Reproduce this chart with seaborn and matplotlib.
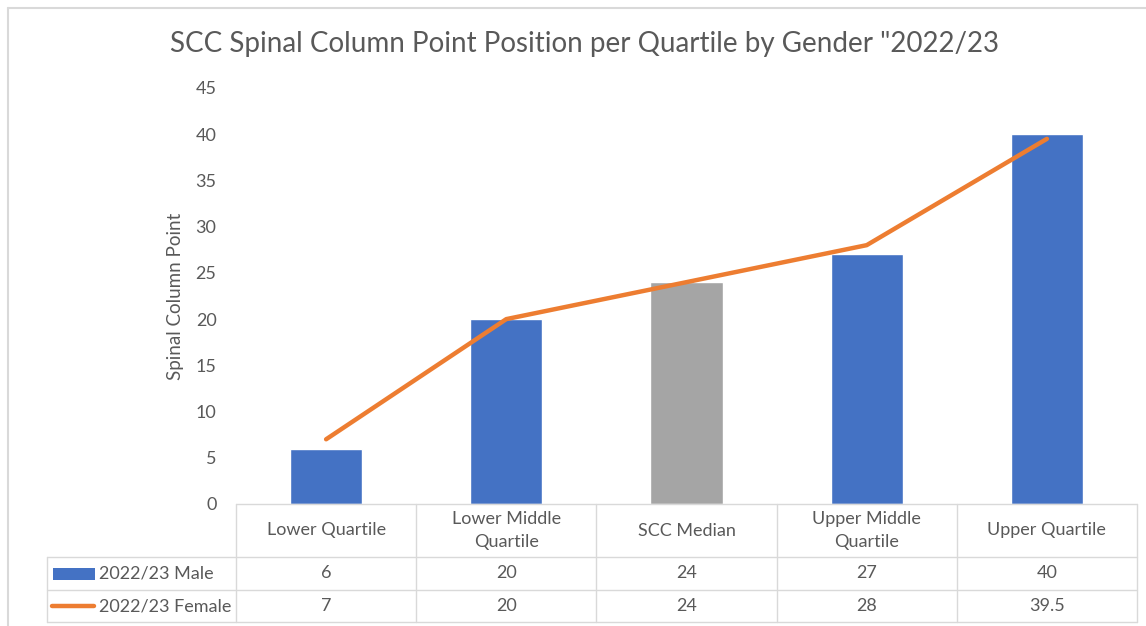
import textwrap
import matplotlib
matplotlib.use("Agg")
import matplotlib.pyplot as plt
import matplotlib.transforms as mtransforms
from matplotlib.lines import Line2D
from matplotlib.patches import Rectangle
import seaborn as sns

# ---- data ----
categories = ["Lower Quartile", "Lower Middle Quartile", "SCC Median",
              "Upper Middle Quartile", "Upper Quartile"]
male = [6, 20, 24, 27, 40]
female = [7, 20, 24, 28, 39.5]
series_names = ["2022/23 Male", "2022/23 Female"]
title = "SCC Spinal Column Point Position per Quartile by Gender \"2022/23"
ylabel = "Spinal Column Point"
yticks = [0, 5, 10, 15, 20, 25, 30, 35, 40, 45]

BLUE = "#4472C4"
GREY = "#A5A5A5"
ORANGE = "#ED7D31"
TEXT = "#595959"
GRID = "#D9D9D9"

sns.set_theme(style="white")
plt.rcParams["font.family"] = ["Lato", "DejaVu Sans"]

W, H = 1146, 626
fig = plt.figure(figsize=(W / 100, H / 100), dpi=100)
pix = mtransforms.Affine2D().scale(1 / W, -1 / H).translate(0, 1) + fig.transFigure

# main axes: x 236..1137, y 88..504 (pixels)
L, R, T, B = 236, 1137, 88, 504
ax = fig.add_axes([L / W, 1 - B / H, (R - L) / W, (B - T) / H])

colors = [GREY if c == "SCC Median" else BLUE for c in categories]
sns.barplot(x=categories, y=male, hue=categories, palette=colors, legend=False,
            width=0.4, saturation=1, ax=ax)
sns.pointplot(x=categories, y=female, color=ORANGE, markers="", linestyles="-",
              errorbar=None, ax=ax, lw=3.2, solid_capstyle="round")
for ln in ax.lines:
    ln.set_solid_capstyle("round")
    ln.set_linewidth(3.2)

fs = 13
ax.set_xlim(-0.5, len(categories) - 0.5)
ax.set_ylim(0, 45)
ax.set_yticks(yticks)
ax.set_yticklabels([str(v) for v in yticks], color=TEXT, fontsize=fs)
ax.tick_params(axis="y", length=0, pad=14)
ax.set_xticks([])
ax.set_xlabel("")
ax.set_ylabel(ylabel, color=TEXT, fontsize=fs + 0.5, labelpad=8)
for s in ax.spines.values():
    s.set_visible(False)

# title
fig.text(585 / W, 1 - 44 / H, title, ha="center", va="center",
         fontsize=20, color=TEXT)

# chart border (top & left visible)
fig.add_artist(Line2D([8, W], [8, 8], transform=pix, color=GRID, lw=1.5))
fig.add_artist(Line2D([8, 8], [8, H], transform=pix, color=GRID, lw=1.5))

# data table
n = len(categories)
colw = (R - L) / n
row_y = [504, 557, 590, 622]
tl = 47
lw_t = 1.0
fig.add_artist(Line2D([L, R], [row_y[0], row_y[0]], transform=pix, color=GRID, lw=lw_t))
for y in row_y[1:]:
    fig.add_artist(Line2D([tl, R], [y, y], transform=pix, color=GRID, lw=lw_t))
fig.add_artist(Line2D([tl, tl], [row_y[1], row_y[3]], transform=pix, color=GRID, lw=lw_t))
for i in range(n + 1):
    x = L + i * colw
    fig.add_artist(Line2D([x, x], [row_y[0], row_y[3]], transform=pix, color=GRID, lw=lw_t))

for i, c in enumerate(categories):
    cx = L + (i + 0.5) * colw
    fig.text(cx, (row_y[0] + row_y[1]) / 2, textwrap.fill(c, 14), transform=pix,
             ha="center", va="center", fontsize=fs, color=TEXT, linespacing=1.5)
    fig.text(cx, (row_y[1] + row_y[2]) / 2, f"{male[i]:g}", transform=pix,
             ha="center", va="center", fontsize=fs, color=TEXT)
    fig.text(cx, (row_y[2] + row_y[3]) / 2, f"{female[i]:g}", transform=pix,
             ha="center", va="center", fontsize=fs, color=TEXT)

# legend keys in table
fig.add_artist(Rectangle((53, 568), 42, 12, transform=pix, facecolor=BLUE, edgecolor="none"))
fig.text(99, (row_y[1] + row_y[2]) / 2, series_names[0], transform=pix,
         ha="left", va="center", fontsize=fs, color=TEXT)
fig.add_artist(Line2D([52, 94], [606, 606], transform=pix, color=ORANGE, lw=3.2,
                      solid_capstyle="round"))
fig.text(99, (row_y[2] + row_y[3]) / 2, series_names[1], transform=pix,
         ha="left", va="center", fontsize=fs, color=TEXT)

fig.savefig("out.png", dpi=100, facecolor="white")
